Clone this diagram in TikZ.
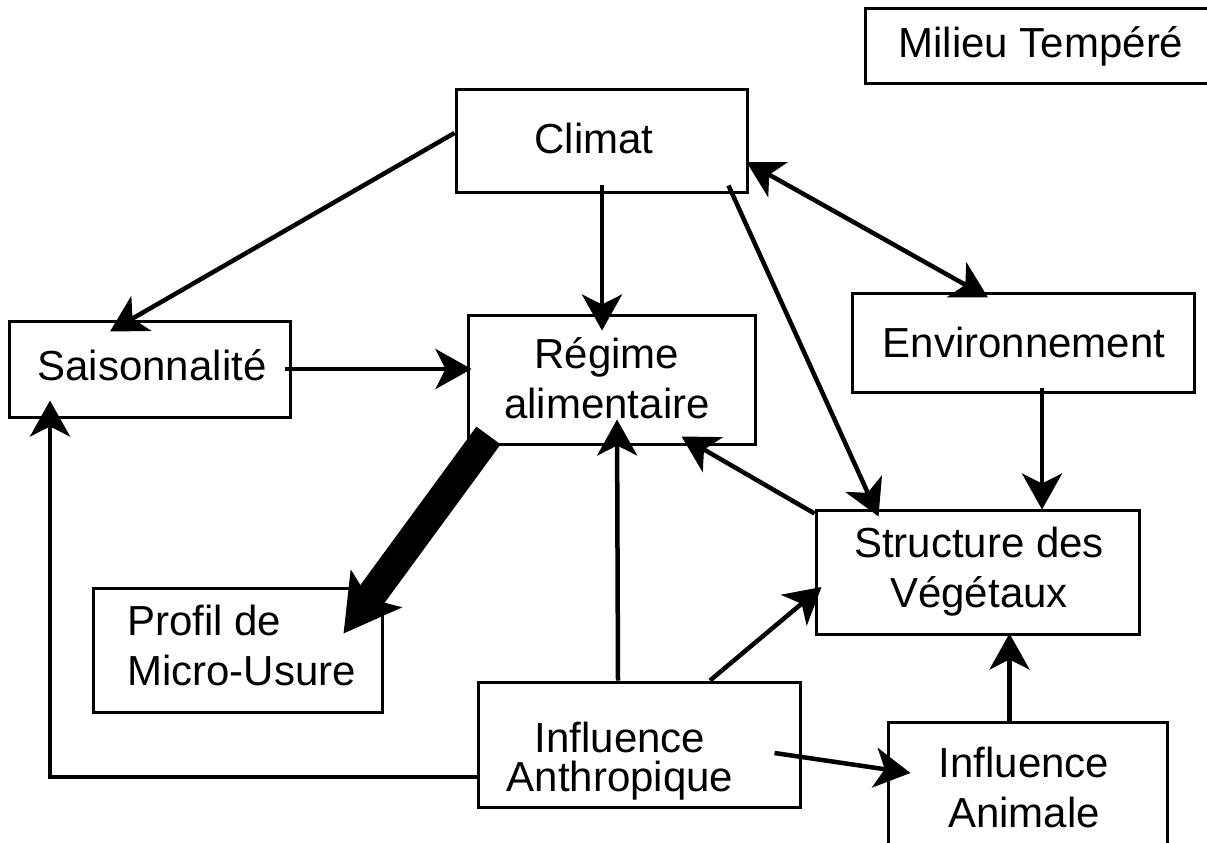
\documentclass[tikz,border=0pt]{standalone}
\usepackage{fontspec}
\setmainfont{Liberation Sans}
\usetikzlibrary{arrows.meta,calc}
\begin{document}
\begin{tikzpicture}[x=1pt,y=-1pt,
  box/.style={draw, line width=3pt, inner sep=0pt, anchor=center},
  lbl/.style={inner sep=0pt, font=\fontsize{42}{50}\selectfont},
  >={Stealth[length=36pt,width=40pt,inset=10pt]},
  arr/.style={line width=4.5pt, ->},
  darr/.style={line width=4.5pt, <->},
  thick arr/.style={line width=30pt, -{Stealth[length=55pt,width=62pt,inset=12pt]}}]
\useasboundingbox (0,0) rectangle (1207,843);
% boxes
\node[box, minimum width=350pt, minimum height=74pt] (milieu) at (1040,46) {};
\node[box, minimum width=291pt, minimum height=103pt] (climat) at (601.5,140.5) {};
\node[box, minimum width=281pt, minimum height=96pt] (sais) at (149.5,369) {};
\node[box, minimum width=287pt, minimum height=129pt] (regime) at (611.5,379.5) {};
\node[box, minimum width=342pt, minimum height=99pt] (env) at (1023,342.5) {};
\node[box, minimum width=323pt, minimum height=124pt] (struct) at (977.5,572) {};
\node[box, minimum width=289pt, minimum height=124pt] (profil) at (237.5,650) {};
\node[box, minimum width=322pt, minimum height=125pt] (anth) at (639,744.5) {};
\node[box, minimum width=279pt, minimum height=148pt] (anim) at (1027.5,796) {};
% labels
\node[lbl, anchor=base] (tmilieu) at (1041,58) {Milieu Tempéré};
\node[lbl, anchor=base] (tclimat) at (594,153) {Climat};
\node[lbl, anchor=base] (tsais) at (152,380) {Saisonnalité};
\node[lbl, anchor=base] (tregime) at (607,368) {\begin{tabular}[t]{@{}c@{}}Régime\\alimentaire\end{tabular}};
\node[lbl, anchor=base] (tenv) at (1024,357) {Environnement};
\node[lbl, anchor=base] (tstruct) at (979,557) {\begin{tabular}[t]{@{}c@{}}Structure des\\Végétaux\end{tabular}};
\node[lbl, anchor=base west] (tprofil) at (127,635) {\begin{tabular}[t]{@{}l@{}}Profil de\\Micro-Usure\end{tabular}};
\node[lbl, anchor=base] (tanth) at (620,752) {\begin{tabular}[t]{@{}c@{}}Influence\\[-11pt]Anthropique\end{tabular}};
\node[lbl, anchor=base] (tanim) at (1024,777) {\begin{tabular}[t]{@{}c@{}}Influence\\Animale\end{tabular}};
% connectors
\draw[arr] ($(climat.west)+(0,-7.5)$) -- ($(sais.north)+(-39.5,12)$);
\draw[arr] ($(climat.south)+(0.5,-9)$) -- ($(regime.north)+(-9.5,17)$);
\draw[arr] ($(climat.south east)+(-20,-8)$) -- ($(struct.north west)+(64,8)$);
\draw[darr] ($(climat.east)+(-2,21.5)$) -- ($(env.north)+(-35,6)$);
\draw[arr] ($(sais.east)+(-7,0)$) -- ($(regime.west)+(5,-10.5)$);
\draw[arr] ($(env.south)+(19,-6)$) -- ($(struct.north)+(64.5,1)$);
\draw[arr] ($(struct.north west)+(0,5)$) -- ($(regime.south east)+(-75,-9)$);
\draw[arr] ($(anth.north)+(-21,0)$) -- ($(regime.south)+(5.5,-26)$);
\draw[arr] ($(anth.north)+(71,0)$) -- ($(struct.west)+(7,15)$);
\draw[arr] ($(anth.east)+(-27,8.5)$) -- ($(anim.west)+(24,-23)$);
\draw[arr] ($(anim.north)+(-18,3)$) -- ($(struct.south)+(32,-2)$);
\draw[arr] ($(anth.west)+(0,32.5)$) -| ($(sais.south)+(-99.5,-18)$);
\draw[thick arr] ($(regime.south west)+(22,-10)$) -- ($(profil.north east)+(-40,47)$);
\end{tikzpicture}
\end{document}
